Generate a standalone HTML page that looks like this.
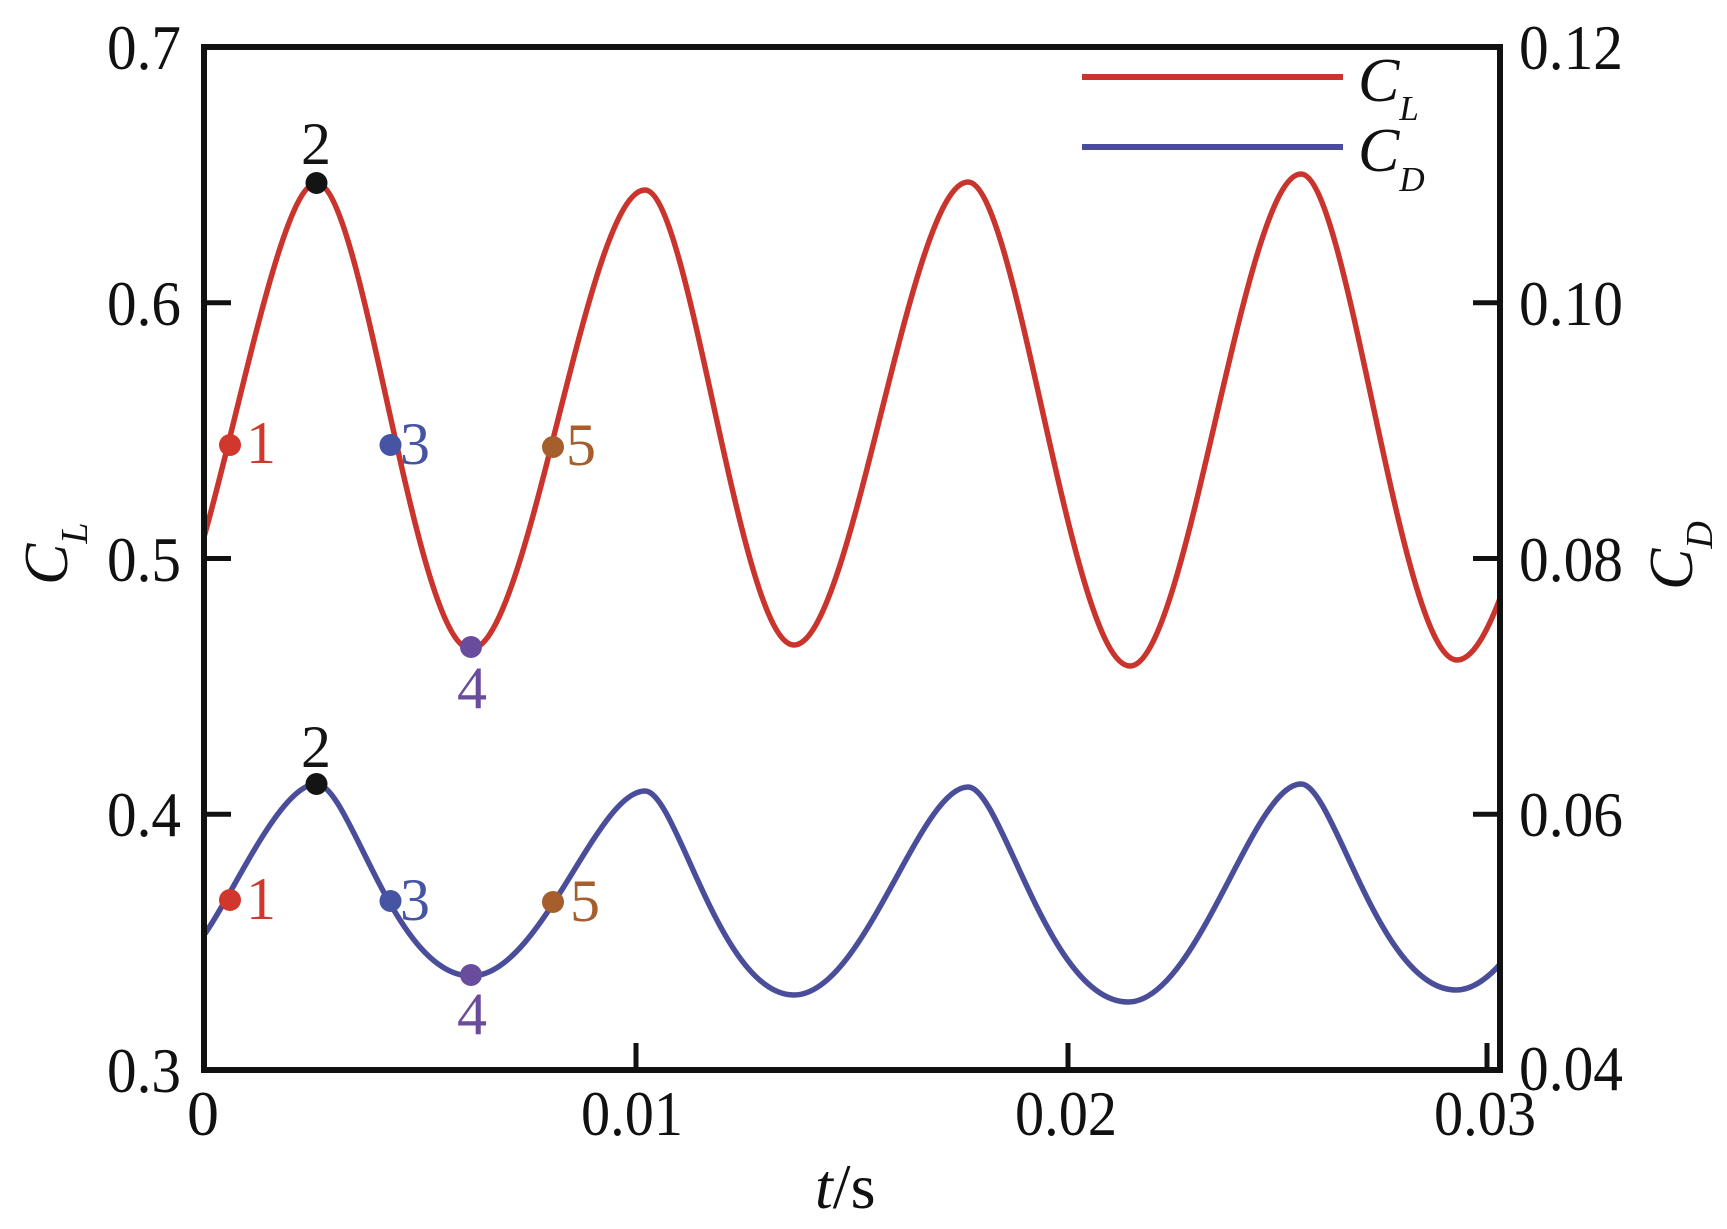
<!DOCTYPE html>
<html>
<head>
<meta charset="utf-8">
<style>
  html, body { margin: 0; padding: 0; background: #ffffff; }
  svg { display: block; }
  text { font-family: "Liberation Serif", "DejaVu Serif", serif; fill: #111; }
</style>
</head>
<body>
<svg width="1727" height="1229" viewBox="0 0 1727 1229" xmlns="http://www.w3.org/2000/svg">
  <rect x="0" y="0" width="1727" height="1229" fill="#ffffff"/>
  <defs>
    <clipPath id="plotclip">
      <rect x="204" y="47" width="1296" height="1023"/>
    </clipPath>
  </defs>

  <!-- curves -->
  <g clip-path="url(#plotclip)" fill="none" stroke-linecap="round" stroke-linejoin="round">
    <path stroke="#c9342c" stroke-width="5.5"
      d="M204,537 C240,411 283,183 316.5,183
         C363,183 415,649 471,649
         C529,649 587,190 645,190
         C689.7,190 740.4,645 794,645
         C852,645 910,182 968,182
         C1016.6,182 1071.7,666 1130,666
         C1187,666 1244,174 1301,174
         C1347.8,174 1400.8,660 1457,660
         C1521.3,660 1585.7,176 1650,176"/>
    <path stroke="#4a4e9a" stroke-width="5.5"
      d="M204,935 C232,897 280,784 316.5,784
         C350,784 393.75,976 471,976
         C540.6,976 596.3,791 645,791
         C677,791 719.5,995 794,995
         C863.6,995 919.3,787 968,787
         C1002,787 1048,1002 1128,1002
         C1197.2,1002 1252.6,784 1301,784
         C1334,784 1378.5,990 1456,990
         C1525.6,990 1581.3,784 1630,784"/>
  </g>

  <!-- axes frame -->
  <rect x="204" y="47" width="1296" height="1023" fill="none" stroke="#111" stroke-width="6"/>

  <!-- ticks -->
  <g stroke="#111" stroke-width="5">
    <line x1="204" y1="302.75" x2="231" y2="302.75"/>
    <line x1="204" y1="558.5" x2="231" y2="558.5"/>
    <line x1="204" y1="814.25" x2="231" y2="814.25"/>
    <line x1="1500" y1="302.75" x2="1473" y2="302.75"/>
    <line x1="1500" y1="558.5" x2="1473" y2="558.5"/>
    <line x1="1500" y1="814.25" x2="1473" y2="814.25"/>
    <line x1="636" y1="1070" x2="636" y2="1043"/>
    <line x1="1068" y1="1070" x2="1068" y2="1043"/>
    <line x1="1487" y1="1070" x2="1487" y2="1043"/>
  </g>

  <!-- left tick labels -->
  <g font-size="64" text-anchor="end">
    <text x="181" y="69" textLength="74" lengthAdjust="spacingAndGlyphs">0.7</text>
    <text x="181" y="325" textLength="74" lengthAdjust="spacingAndGlyphs">0.6</text>
    <text x="181" y="581" textLength="74" lengthAdjust="spacingAndGlyphs">0.5</text>
    <text x="181" y="836" textLength="74" lengthAdjust="spacingAndGlyphs">0.4</text>
    <text x="181" y="1092" textLength="74" lengthAdjust="spacingAndGlyphs">0.3</text>
  </g>
  <!-- right tick labels -->
  <g font-size="64" text-anchor="start">
    <text x="1519" y="69" textLength="104" lengthAdjust="spacingAndGlyphs">0.12</text>
    <text x="1519" y="325" textLength="104" lengthAdjust="spacingAndGlyphs">0.10</text>
    <text x="1519" y="581" textLength="104" lengthAdjust="spacingAndGlyphs">0.08</text>
    <text x="1519" y="836" textLength="104" lengthAdjust="spacingAndGlyphs">0.06</text>
    <text x="1519" y="1090" textLength="104" lengthAdjust="spacingAndGlyphs">0.04</text>
  </g>
  <!-- bottom tick labels -->
  <g font-size="64" text-anchor="middle">
    <text x="203" y="1135">0</text>
    <text x="632" y="1135" textLength="102" lengthAdjust="spacingAndGlyphs">0.01</text>
    <text x="1066" y="1135" textLength="102" lengthAdjust="spacingAndGlyphs">0.02</text>
    <text x="1485" y="1135" textLength="102" lengthAdjust="spacingAndGlyphs">0.03</text>
  </g>

  <!-- axis titles -->
  <text transform="translate(67,585) rotate(-90)" font-size="62" font-style="italic">C<tspan font-size="38" dy="20">L</tspan></text>
  <text transform="translate(1692,590) rotate(-90)" font-size="62" font-style="italic">C<tspan font-size="38" dy="20">D</tspan></text>
  <text x="815" y="1208" font-size="64"><tspan font-style="italic">t</tspan>/s</text>

  <!-- legend -->
  <line x1="1082" y1="77" x2="1343" y2="77" stroke="#c9342c" stroke-width="6"/>
  <line x1="1082" y1="147" x2="1343" y2="147" stroke="#4a4e9a" stroke-width="6"/>
  <text x="1358" y="101" font-size="62" font-style="italic">C<tspan font-size="35" dy="19">L</tspan></text>
  <text x="1358" y="171" font-size="62" font-style="italic">C<tspan font-size="35" dy="20">D</tspan></text>

  <!-- markers: CL -->
  <circle cx="230" cy="445" r="11" fill="#d0372d"/>
  <circle cx="316.5" cy="183" r="11" fill="#141414"/>
  <circle cx="390.5" cy="445" r="11" fill="#4654a4"/>
  <circle cx="471" cy="647" r="11" fill="#6a4c9c"/>
  <circle cx="553" cy="447" r="11" fill="#a65f2c"/>
  <!-- markers: CD -->
  <circle cx="230" cy="900" r="11" fill="#d0372d"/>
  <circle cx="316.5" cy="784" r="11" fill="#141414"/>
  <circle cx="390.5" cy="901" r="11" fill="#4654a4"/>
  <circle cx="471" cy="975" r="11" fill="#6a4c9c"/>
  <circle cx="553" cy="902" r="11" fill="#a65f2c"/>

  <!-- marker labels: CL -->
  <g font-size="60">
    <text x="246" y="463" style="fill:#d0372d">1</text>
    <text x="316" y="164" text-anchor="middle" style="fill:#141414">2</text>
    <text x="400" y="464" style="fill:#4654a4">3</text>
    <text x="472" y="708" text-anchor="middle" style="fill:#6a4c9c">4</text>
    <text x="566" y="465" style="fill:#a65f2c">5</text>
  </g>
  <!-- marker labels: CD -->
  <g font-size="60">
    <text x="246" y="919" style="fill:#d0372d">1</text>
    <text x="316" y="767" text-anchor="middle" style="fill:#141414">2</text>
    <text x="400" y="920" style="fill:#4654a4">3</text>
    <text x="472" y="1034" text-anchor="middle" style="fill:#6a4c9c">4</text>
    <text x="570" y="921" style="fill:#a65f2c">5</text>
  </g>
</svg>
</body>
</html>
